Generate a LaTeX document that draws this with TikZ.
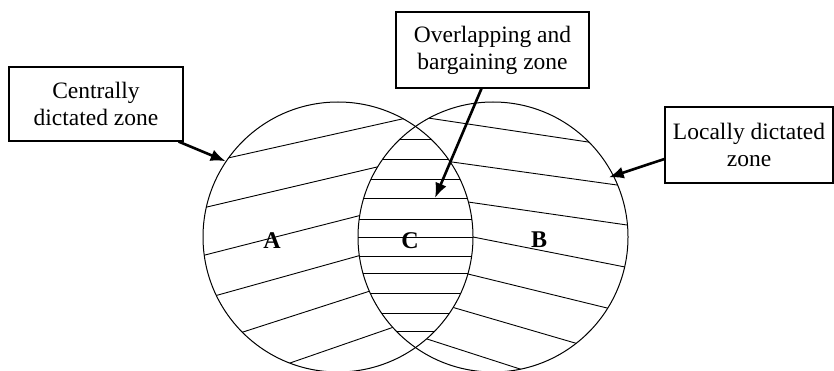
\documentclass[tikz,border=0pt]{standalone}
\usepackage{fontspec}
\setmainfont{Liberation Serif}
\usetikzlibrary{arrows.meta,positioning,calc}

\begin{document}
\begin{tikzpicture}[x=1pt, y=-1pt, line width=1pt, >={Latex[length=15pt,width=12pt]}]

        \tikzstyle{block} = [draw, rectangle, minimum height=76pt, align=center, inner sep=0pt, line width=1.2pt, font=\fontsize{23.5}{27}\selectfont]
        \tikzstyle{zone} = [draw, circle, minimum size=270pt, inner sep=0pt]
        \tikzstyle{letter} = [font=\fontsize{24}{24}\selectfont\bfseries]
        \tikzstyle{pointer} = [->, line width=2.6pt]
        \tikzstyle{hatch} = [line width=0.9pt, shorten <=-20pt, shorten >=-20pt]

        \useasboundingbox (0,0) rectangle (834,371);

        \coordinate (lc) at (338,237);
        \coordinate (rc) at (493,237);
        \coordinate (tipC) at (435,198);

        % left zone hatching
        \begin{scope}
            \clip (lc) circle [radius=135];
            \foreach \xa/\ya/\xb/\yb in {228/158/402/119, 207/207/377/167, 205/255/358/216,
                                         218/295/358/256, 243/332/367/292, 290/363/391/328}
                \draw [hatch] (\xa,\ya) -- (\xb,\yb);
        \end{scope}

        % right zone hatching
        \begin{scope}
            \clip (rc) circle [radius=135];
            \foreach \xa/\ya/\xb/\yb in {428/118/588/142, 452/162/617/185, 468/202/627/225, 473/237/625/267,
                                         468/274/607/308, 455/308/575/343, 427/339/520/369}
                \draw [hatch] (\xa,\ya) -- (\xb,\yb);
        \end{scope}

        % overlap: cleared, then ruled across
        \begin{scope}
            \clip (lc) circle [radius=135];
            \clip (rc) circle [radius=135];
            \fill [white] (rc) circle [radius=140];
            \foreach \y in {139,159,179,198,219,237,256,273,293,313,331}
                \draw [hatch] (340,\y) -- (490,\y);
        \end{scope}

        \node [zone] (left) at (lc) {};
        \node [zone] (right) at (rc) {};

        \node [letter] (A) at (272,241) {A};
        \node [letter] (C) at (410,241) {C};
        \node [letter] (B) at (539,240) {B};

        \node [block, minimum width=174pt, minimum height=74pt] (central) at (96,104) {Centrally\\dictated zone};
        \node [block, minimum width=193pt] (overlap) at (492.5,50) {Overlapping and\\bargaining zone};
        \node [block, minimum width=168pt] (local) at (749,145) {Locally dictated\\zone};

        \draw [pointer] ([xshift=-5pt]central.south east) -- (left.146);
        \draw [pointer] ([xshift=-11pt]overlap.south) -- (tipC);
        \draw [pointer] ([yshift=-14pt]local.west) -- ([xshift=-5pt,yshift=-2pt]right.27);

\end{tikzpicture}
\end{document}
